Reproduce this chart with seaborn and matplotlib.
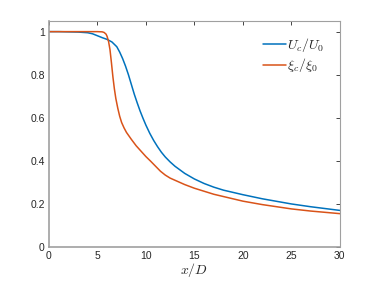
import numpy as np
import pandas as pd
import matplotlib
matplotlib.use("Agg")
import matplotlib.pyplot as plt
import seaborn as sns

# data
x_u = [0, 1, 2, 3, 4, 4.5, 5, 5.5, 6, 6.5, 7.0, 7.3, 7.6, 7.9, 8.2, 8.5, 8.8, 9.1, 9.4, 9.7,
       10.0, 10.4, 10.8, 11.2, 11.6, 12, 12.5, 13, 14, 15, 16, 17, 18, 20, 22, 25, 27, 30]
u = [1.0, 1.0, 0.999, 0.998, 0.995, 0.99, 0.981, 0.972, 0.964, 0.952, 0.93, 0.905, 0.875,
     0.84, 0.80, 0.755, 0.71, 0.67, 0.632, 0.598, 0.566, 0.528, 0.495, 0.466, 0.44, 0.418,
     0.395, 0.375, 0.342, 0.316, 0.295, 0.278, 0.264, 0.243, 0.224, 0.2, 0.187, 0.17]
x_xi = [0, 1, 2, 3, 4, 5, 5.5, 5.7, 5.9, 6.0, 6.15, 6.3, 6.45, 6.6, 6.75, 6.9, 7.1, 7.3, 7.5,
        7.75, 8.0, 8.5, 9.0, 9.5, 10, 10.5, 11, 11.5, 12, 12.5, 13, 14, 15, 17, 20, 22, 25, 27, 30]
xi = [1.0, 1.0, 1.0, 1.0, 1.0, 1.0, 0.999, 0.996, 0.988, 0.978, 0.955, 0.916, 0.855, 0.79,
      0.735, 0.69, 0.645, 0.607, 0.578, 0.553, 0.532, 0.50, 0.47, 0.445, 0.42, 0.398, 0.375,
      0.352, 0.334, 0.32, 0.31, 0.29, 0.273, 0.245, 0.213, 0.197, 0.177, 0.167, 0.155]
labels = [r"$U_c/U_0$", r"$\xi_c/\xi_0$"]

df = pd.concat([
    pd.DataFrame({"x": x_u, "y": u, "s": labels[0]}),
    pd.DataFrame({"x": x_xi, "y": xi, "s": labels[1]}),
])

sns.set_theme(style="white")
plt.rcParams["font.family"] = ["Liberation Sans", "DejaVu Sans"]
plt.rcParams["mathtext.fontset"] = "cm"

fig = plt.figure(figsize=(3.76, 2.82), dpi=100)
ax = fig.add_axes([0.130, 0.124, 0.774, 0.802])
sns.lineplot(data=df, x="x", y="y", hue="s", palette=["#0072BD", "#D95319"],
             linewidth=1.1, ax=ax, sort=False, legend=True)

ax.set_xlim(0, 30)
ax.set_ylim(0, 1.05)
ax.set_xticks([0, 5, 10, 15, 20, 25, 30])
ax.set_yticks([0, 0.2, 0.4, 0.6, 0.8, 1])
ax.set_yticklabels(["0", "0.2", "0.4", "0.6", "0.8", "1"])
ax.set_xlabel(r"$x/D$", fontsize=10, labelpad=0)
ax.set_ylabel("")
ax.tick_params(direction="in", length=3, width=0.6, colors="#262626", labelsize=7.5,
               top=True, right=True, pad=3)
for sp in ax.spines.values():
    sp.set_color("#a0a0a0")
    sp.set_linewidth(0.8)
ax.spines["left"].set_linewidth(1.2)
ax.spines["bottom"].set_linewidth(1.2)

leg = ax.legend(frameon=False, fontsize=10, loc="upper right",
                bbox_to_anchor=(0.99, 0.99), handlelength=1.6, handletextpad=0.1,
                labelspacing=0.2)
fig.savefig("out.png", dpi=100)
